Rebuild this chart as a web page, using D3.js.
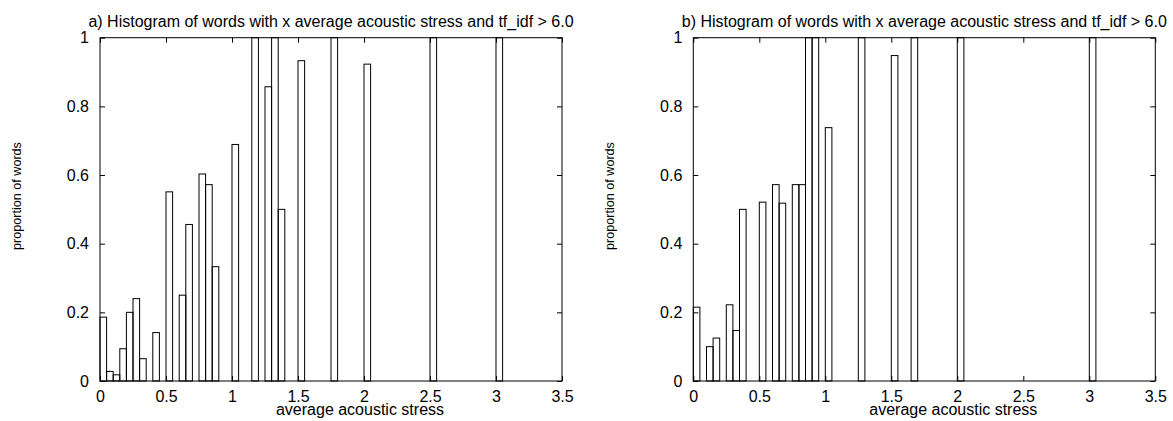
<!DOCTYPE html>
<html>
<head>
<meta charset="utf-8">
<script src="https://cdn.jsdelivr.net/npm/d3@7"></script>
<style>
  body { margin: 0; background: #fff; }
  svg text { font-family: "Liberation Sans", Arial, Helvetica, sans-serif; fill: #000; }
</style>
</head>
<body>
<svg id="chart" width="1173" height="421"></svg>
<script>
// bin start (average acoustic stress) and proportion of words, panel a
const binsA = [0, 0.05, 0.1, 0.15, 0.2, 0.25, 0.3, 0.4, 0.5, 0.6, 0.65, 0.75, 0.8, 0.85,
               1.0, 1.15, 1.25, 1.3, 1.35, 1.5, 1.75, 2.0, 2.5, 3.0];
const propA = [0.186, 0.028, 0.018, 0.094, 0.2, 0.24, 0.065, 0.141, 0.551, 0.25, 0.456, 0.603, 0.572, 0.333,
               0.689, 1, 0.857, 1, 0.5, 0.933, 1, 0.923, 1, 1];

// panel b
const binsB = [0, 0.1, 0.15, 0.25, 0.3, 0.35, 0.5, 0.6, 0.65, 0.75, 0.8, 0.85, 0.9,
               1.0, 1.25, 1.5, 1.65, 2.0, 3.0];
const propB = [0.215, 0.1, 0.125, 0.222, 0.147, 0.5, 0.521, 0.572, 0.518, 0.572, 0.572, 1, 1,
               0.738, 1, 0.948, 1, 1, 1];

const xTicks = [0, 0.5, 1, 1.5, 2, 2.5, 3, 3.5];
const yTicks = [0, 0.2, 0.4, 0.6, 0.8, 1];
const titles = [
  "a) Histogram of words with x average acoustic stress and tf_idf > 6.0",
  "b) Histogram of words with x average acoustic stress and tf_idf > 6.0"
];
const xLabel = "average acoustic stress";
const yLabel = "proportion of words";

const binWidth = 0.05;
const svg = d3.select("#chart");

const panels = [
  { left: 100, bins: binsA, props: propA, title: titles[0] },
  { left: 693.3, bins: binsB, props: propB, title: titles[1] }
];

const plotTop = 37.7, plotBottom = 381, plotW = 462;

panels.forEach(p => {
  const x = d3.scaleLinear().domain([0, 3.5]).range([p.left, p.left + plotW]);
  const y = d3.scaleLinear().domain([0, 1]).range([plotBottom, plotTop]);
  const g = svg.append("g");

  // boxes
  g.selectAll("rect.bar")
    .data(p.bins.map((b, i) => ({ b: b, v: p.props[i] })))
    .enter().append("rect")
    .attr("class", "bar")
    .attr("x", d => x(d.b))
    .attr("width", d => x(d.b + binWidth) - x(d.b))
    .attr("y", d => y(d.v))
    .attr("height", d => y(0) - y(d.v))
    .attr("fill", "none")
    .attr("stroke", "#000")
    .attr("stroke-width", 1);

  // axes, ticks pointing inward
  const fmt = d => String(d);
  const ax = [
    g.append("g").attr("transform", `translate(0,${plotBottom})`)
      .call(d3.axisBottom(x).tickValues(xTicks).tickFormat(fmt).tickSize(-5).tickPadding(10)),
    g.append("g").attr("transform", `translate(0,${plotTop})`)
      .call(d3.axisTop(x).tickValues(xTicks).tickFormat("").tickSize(-5)),
    g.append("g").attr("transform", `translate(${p.left},0)`)
      .call(d3.axisLeft(y).tickValues(yTicks).tickFormat(fmt).tickSize(-5).tickPadding(11)),
    g.append("g").attr("transform", `translate(${p.left + plotW},0)`)
      .call(d3.axisRight(y).tickValues(yTicks).tickFormat("").tickSize(-5))
  ];
  ax.forEach(a => {
    a.select(".domain").remove();
    a.selectAll("line").attr("stroke", "#000");
    a.selectAll("text").attr("font-size", 16).attr("font-family", null);
  });

  // frame
  g.append("rect")
    .attr("x", p.left).attr("y", plotTop)
    .attr("width", plotW).attr("height", plotBottom - plotTop)
    .attr("fill", "none").attr("stroke", "#000").attr("stroke-width", 1);

  g.append("text")
    .attr("x", p.left + plotW / 2).attr("y", 27)
    .attr("text-anchor", "middle").attr("font-size", 16)
    .text(p.title);

  g.append("text")
    .attr("x", p.left + plotW / 2 + 29).attr("y", 415)
    .attr("text-anchor", "middle").attr("font-size", 16)
    .text(xLabel);

  g.append("text")
    .attr("transform", `translate(${p.left - 79},196) rotate(-90)`)
    .attr("text-anchor", "middle").attr("font-size", 12.6)
    .text(yLabel);
});
</script>
</body>
</html>
